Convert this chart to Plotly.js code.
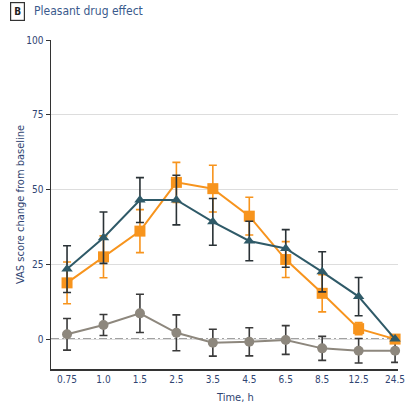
<!DOCTYPE html>
<html><head><meta charset="utf-8">
<script src="https://cdn.plot.ly/plotly-3.0.1.min.js"></script>
<style>html,body{margin:0;padding:0;background:#fff}#chart{width:405px;height:408px}</style>
</head><body><div id="chart"></div>
<script>
const times = ['0.75','1.0','1.5','2.5','3.5','4.5','6.5','8.5','12.5','24.5'];
const triVals = [23.4, 33.9, 46.5, 46.5, 39.2, 32.8, 30.3, 22.5, 14.2, 0];
const triErr  = [7.8, 8.6, 7.5, 8.3, 7.8, 6.6, 6.3, 6.7, 6.4, 0];
const sqVals  = [18.8, 27.5, 36.1, 52.4, 50.3, 41.1, 26.6, 15.3, 3.5, 0];
const sqErr   = [7.0, 7.0, 7.2, 6.7, 7.8, 6.3, 6.0, 6.2, 2.0, 0];
const cirVals = [1.6, 4.7, 8.6, 2.1, -1.2, -0.9, -0.3, -3.1, -3.9, -3.9];
const cirErr  = [5.3, 3.5, 6.4, 6.0, 4.5, 4.7, 4.8, 4.0, 4.1, 3.9];
const yTicks = [0, 25, 50, 75, 100];

const font = "'DejaVu Sans Condensed', 'Liberation Sans', Arial, sans-serif";
const labelColor = '#2f4472';

function series(y, err, color, errColor, symbol, size) {
  return {
    x: times, y: y, type: 'scatter', mode: 'lines+markers',
    line: {color: color, width: 2},
    marker: {symbol: symbol, size: size, color: color},
    error_y: {type: 'data', array: err, visible: true, color: errColor, thickness: 1.6, width: 4},
    showlegend: false, cliponaxis: false
  };
}

const data = [
  series(cirVals, cirErr, '#8d877d', '#3a3a3a', 'circle', 10),
  series(sqVals, sqErr, '#f7941d', '#f7941d', 'square', 11),
  series(triVals, triErr, '#2f5a68', '#2a3236', 'triangle-up', 10)
];

const layout = {
  width: 405, height: 408,
  margin: {l: 51, r: 7, t: 40, b: 39},
  paper_bgcolor: '#fff', plot_bgcolor: '#fff',
  font: {family: font, size: 10, color: labelColor},
  xaxis: {
    type: 'category', range: [-0.44, 9.08],
    showgrid: false, zeroline: false,
    showline: true, linecolor: '#333', linewidth: 1.5,
    ticks: '', tickfont: {family: font, size: 10, color: labelColor}
  },
  yaxis: {
    range: [-10, 100], tickvals: yTicks, ticktext: yTicks.map(String),
    showgrid: true, gridcolor: '#dddddd', gridwidth: 1,
    zeroline: false, showline: true, linecolor: '#333', linewidth: 1.5,
    ticks: 'outside', ticklen: 4, tickcolor: '#333',
    tickfont: {family: font, size: 10, color: labelColor}
  },
  shapes: [{
    type: 'line', xref: 'paper', x0: 0, x1: 1, yref: 'y', y0: 0, y1: 0,
    line: {color: '#444', width: 1.4, dash: '8px,3px,2px,3px'}, layer: 'below'
  }],
  annotations: [
    {xref: 'paper', yref: 'paper', x: -0.118, y: 1.088, xanchor: 'left', yanchor: 'middle',
     text: '<b>B</b>', showarrow: false, font: {family: font, size: 10, color: '#222'},
     bordercolor: '#333', borderwidth: 1.2, borderpad: 3, bgcolor: '#fff'},
    {xref: 'paper', yref: 'paper', x: -0.055, y: 1.088, xanchor: 'left', yanchor: 'middle',
     text: 'Pleasant drug effect', showarrow: false, font: {family: font, size: 12, color: '#3a5a8c'}},
    {xref: 'paper', yref: 'paper', x: 0.53, y: -0.088, xanchor: 'center', yanchor: 'middle',
     text: 'Time, h', showarrow: false, font: {family: font, size: 11, color: labelColor}},
    {xref: 'paper', yref: 'paper', x: -0.088, y: 0.5, xanchor: 'center', yanchor: 'middle', textangle: -90,
     text: 'VAS score change from baseline', showarrow: false, font: {family: font, size: 11, color: labelColor}}
  ]
};

Plotly.newPlot('chart', data, layout, {displayModeBar: false, staticPlot: true});
</script></body></html>
